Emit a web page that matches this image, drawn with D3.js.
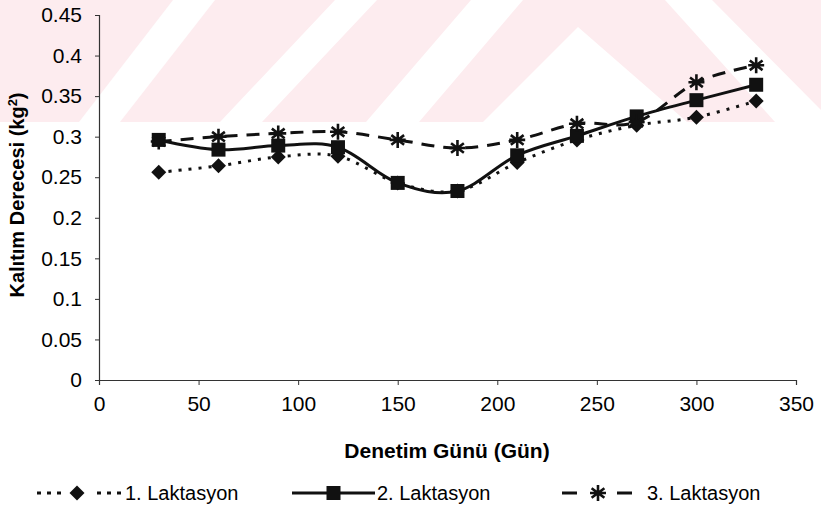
<!DOCTYPE html>
<meta charset="utf-8">
<script src="https://d3js.org/d3.v7.min.js"></script>
<style>
  body { margin: 0; background: #fff; }
  text { font-family: "Liberation Sans", Arial, sans-serif; fill: #000; }
</style>
<div id="my_dataviz"></div>
<script>

// data
var days = [30, 60, 90, 120, 150, 180, 210, 240, 270, 300, 330]
var lak1 = [0.256, 0.264, 0.275, 0.276, 0.243, 0.233, 0.268, 0.296, 0.314, 0.324, 0.344]
var lak2 = [0.296, 0.284, 0.289, 0.287, 0.243, 0.233, 0.277, 0.301, 0.325, 0.345, 0.364]
var lak3 = [0.294, 0.300, 0.304, 0.306, 0.296, 0.286, 0.296, 0.316, 0.318, 0.367, 0.388]
var seriesNames = ["1. Laktasyon", "2. Laktasyon", "3. Laktasyon"]
var xTicks = [0, 50, 100, 150, 200, 250, 300, 350]
var yTicks = [0, 0.05, 0.1, 0.15, 0.2, 0.25, 0.3, 0.35, 0.4, 0.45]

var width = 821,
    height = 506
var margin = {left: 99, right: 25, top: 15, bottom: 126}

var svg = d3.select("#my_dataviz")
  .append("svg")
    .attr("width", width)
    .attr("height", height)

// faint pink watermark band at the top of the scan
var wm = svg.append("g")
wm.append("rect").attr("x", 0).attr("y", 0).attr("width", width).attr("height", 122).attr("fill", "#fdecef")
var whites = [
  [[173,0],[215,0],[120,122],[79,122]],
  [[335,0],[377,0],[262,122],[220,122]],
  [[471,0],[523,0],[419,122],[366,122]],
  [[578,27],[687,122],[483,122]],
  [[665,0],[712,0],[821,110],[821,122],[775,122]]
]
wm.selectAll("polygon")
  .data(whites)
  .enter()
  .append("polygon")
    .attr("points", function(d){ return d.map(function(p){ return p.join(",") }).join(" ") })
    .attr("fill", "#fff")

var x = d3.scaleLinear().domain([0, 350]).range([margin.left, width - margin.right])
var y = d3.scaleLinear().domain([0, 0.45]).range([height - margin.bottom, margin.top])

// axes
svg.append("g")
  .attr("transform", "translate(0," + y(0) + ")")
  .call(d3.axisBottom(x).tickValues(xTicks).tickSize(5).tickPadding(11).tickFormat(d3.format("d")))
svg.append("g")
  .attr("transform", "translate(" + x(0) + ",0)")
  .call(d3.axisLeft(y).tickValues(yTicks).tickSize(4).tickPadding(13).tickFormat(function(d){ return String(+d.toFixed(2)) }))
svg.selectAll(".domain").attr("stroke", "#333").attr("stroke-width", 1.2)
svg.selectAll(".tick line").attr("stroke", "#333")
svg.selectAll(".tick text").style("font-size", "21px").style("font-family", "'Liberation Sans', Arial, sans-serif").attr("fill", "#000")

// axis titles
svg.append("text")
  .attr("x", 447).attr("y", 458)
  .attr("text-anchor", "middle")
  .style("font-size", "21px").style("font-weight", "bold")
  .text("Denetim Günü (Gün)")
svg.append("text")
  .attr("transform", "translate(24,195) rotate(-90)")
  .attr("text-anchor", "middle")
  .style("font-size", "20px").style("font-weight", "bold")
  .html("Kalıtım Derecesi (kg<tspan dy='-7' style='font-size:13px'>2</tspan><tspan dy='7'>)</tspan>")

// markers
function star(g, s) {
  g.append("path")
    .attr("d", "M0," + (-s) + "V" + s + "M" + (-s) + ",0H" + s +
               "M" + (-s*0.8) + "," + (-s*0.6) + "L" + (s*0.8) + "," + (s*0.6) +
               "M" + (-s*0.8) + "," + (s*0.6) + "L" + (s*0.8) + "," + (-s*0.6))
    .attr("stroke", "#111").attr("stroke-width", 2.6).attr("fill", "none")
}
function marker(g, kind) {
  if (kind == 0) g.append("path").attr("d", "M0,-7.5L7.5,0L0,7.5L-7.5,0Z").attr("fill", "#111")
  else if (kind == 1) g.append("rect").attr("x", -7).attr("y", -7).attr("width", 14).attr("height", 14).attr("fill", "#111")
  else star(g, 8)
}

var allSeries = [lak1, lak2, lak3]
var dashes = ["3,7", null, "13,9"]

var line = d3.line()
  .x(function(d){ return x(d[0]) })
  .y(function(d){ return y(d[1]) })
  .curve(d3.curveCatmullRom.alpha(0))

allSeries.forEach(function(vals, i) {
  var pts = days.map(function(d, j){ return [d, vals[j]] })
  svg.append("path")
    .datum(pts)
    .attr("d", line)
    .attr("fill", "none")
    .attr("stroke", "#111")
    .attr("stroke-width", 3)
    .attr("stroke-dasharray", dashes[i])
  pts.forEach(function(p) {
    var g = svg.append("g").attr("transform", "translate(" + x(p[0]) + "," + y(p[1]) + ")")
    marker(g, i)
  })
})

// legend
var legendX = [[37, 122], [292, 375], [562, 633]]
var legendTextX = [125, 377, 647]
var legendY = 493
legendX.forEach(function(lx, i) {
  svg.append("line")
    .attr("x1", lx[0]).attr("x2", lx[1])
    .attr("y1", legendY).attr("y2", legendY)
    .attr("stroke", "#111").attr("stroke-width", 3.2)
    .attr("stroke-dasharray", i == 2 ? "15,40" : (i == 0 ? "4,6" : null))
  var cx = i == 0 ? 77 : (lx[0] + lx[1]) / 2
  if (i == 2) cx = 598
  var g = svg.append("g").attr("transform", "translate(" + cx + "," + legendY + ")")
  if (i == 0) g.append("rect").attr("x", -14).attr("y", -4).attr("width", 28).attr("height", 8).attr("fill", "#fff")
  marker(g, i)
  svg.append("text")
    .attr("x", legendTextX[i]).attr("y", legendY + 7)
    .style("font-size", "20px")
    .text(seriesNames[i])
})

</script>
